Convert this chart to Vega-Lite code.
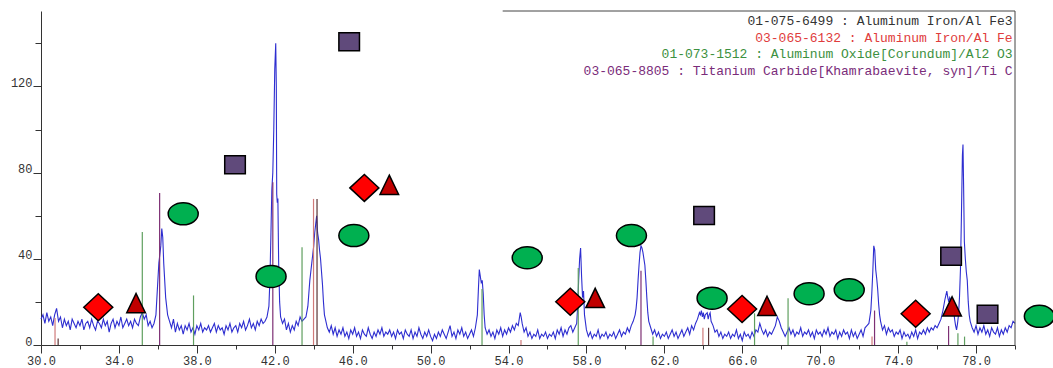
{
  "$schema": "https://vega.github.io/schema/vega-lite/v6.json",
  "width": 974,
  "height": 334,
  "autosize": {"type": "none"},
  "padding": {"left": 41, "top": 11, "right": 38, "bottom": 23},
  "background": "white",
  "config": {
    "view": {"stroke": null},
    "font": "Liberation Mono",
    "axis": {"grid": false, "title": null, "domainColor": "#333333", "tickColor": "#333333", "labelColor": "#333333", "labelFont": "Liberation Mono", "labelFontSize": 12, "labelFontWeight": "normal"}
  },
  "resolve": {"axis": {"x": "independent", "y": "independent"}, "scale": {"fill": "independent"}},
  "datasets": {
    "scan": [
      {"x":30.0,"y":12},{"x":30.1,"y":14},{"x":30.2,"y":10},{"x":30.3,"y":15},{"x":30.4,"y":11},{"x":30.5,"y":13},{"x":30.6,"y":9},{"x":30.7,"y":14},{"x":30.8,"y":17},{"x":30.9,"y":11},
      {"x":31.0,"y":13},{"x":31.1,"y":8},{"x":31.2,"y":12},{"x":31.3,"y":9},{"x":31.4,"y":11},{"x":31.5,"y":7},{"x":31.6,"y":12},{"x":31.7,"y":10},{"x":31.8,"y":8},{"x":31.9,"y":11},
      {"x":32.0,"y":9},{"x":32.1,"y":12},{"x":32.2,"y":7},{"x":32.3,"y":10},{"x":32.4,"y":11},{"x":32.5,"y":8},{"x":32.6,"y":12},{"x":32.7,"y":9},{"x":32.8,"y":7},{"x":32.9,"y":11},
      {"x":33.0,"y":10},{"x":33.1,"y":8},{"x":33.2,"y":12},{"x":33.3,"y":9},{"x":33.4,"y":11},{"x":33.5,"y":6},{"x":33.6,"y":10},{"x":33.7,"y":12},{"x":33.8,"y":8},{"x":33.9,"y":11},
      {"x":34.0,"y":9},{"x":34.1,"y":13},{"x":34.2,"y":8},{"x":34.3,"y":10},{"x":34.4,"y":12},{"x":34.5,"y":9},{"x":34.6,"y":11},{"x":34.7,"y":8},{"x":34.8,"y":12},{"x":34.9,"y":10},
      {"x":35.0,"y":9},{"x":35.1,"y":13},{"x":35.2,"y":15},{"x":35.3,"y":12},{"x":35.4,"y":14},{"x":35.5,"y":9},{"x":35.6,"y":11},{"x":35.7,"y":8},{"x":35.8,"y":10},{"x":35.9,"y":14},
      {"x":36.0,"y":30},{"x":36.05,"y":38},{"x":36.1,"y":42},{"x":36.15,"y":46},{"x":36.2,"y":54},{"x":36.25,"y":50},{"x":36.3,"y":38},{"x":36.4,"y":22},{"x":36.5,"y":14},{"x":36.6,"y":11},
      {"x":36.7,"y":8},{"x":36.8,"y":12},{"x":36.9,"y":6},{"x":37.0,"y":10},{"x":37.1,"y":7},{"x":37.2,"y":9},{"x":37.3,"y":5},{"x":37.4,"y":9},{"x":37.5,"y":7},{"x":37.6,"y":10},
      {"x":37.7,"y":6},{"x":37.8,"y":8},{"x":37.9,"y":5},{"x":38.0,"y":9},{"x":38.1,"y":7},{"x":38.2,"y":10},{"x":38.3,"y":6},{"x":38.4,"y":8},{"x":38.5,"y":7},{"x":38.6,"y":9},
      {"x":38.7,"y":6},{"x":38.8,"y":8},{"x":38.9,"y":10},{"x":39.0,"y":6},{"x":39.1,"y":9},{"x":39.2,"y":7},{"x":39.3,"y":8},{"x":39.4,"y":5},{"x":39.5,"y":9},{"x":39.6,"y":7},
      {"x":39.7,"y":10},{"x":39.8,"y":6},{"x":39.9,"y":8},{"x":40.0,"y":9},{"x":40.1,"y":6},{"x":40.2,"y":10},{"x":40.3,"y":8},{"x":40.4,"y":11},{"x":40.5,"y":7},{"x":40.6,"y":9},
      {"x":40.7,"y":12},{"x":40.8,"y":8},{"x":40.9,"y":10},{"x":41.0,"y":7},{"x":41.1,"y":11},{"x":41.2,"y":9},{"x":41.3,"y":12},{"x":41.4,"y":10},{"x":41.5,"y":11},{"x":41.6,"y":13},
      {"x":41.7,"y":18},{"x":41.75,"y":30},{"x":41.8,"y":50},{"x":41.85,"y":72},{"x":41.9,"y":80},{"x":41.95,"y":100},{"x":42.0,"y":128},{"x":42.05,"y":140},{"x":42.08,"y":120},{"x":42.1,"y":70},
      {"x":42.13,"y":66},{"x":42.16,"y":68},{"x":42.2,"y":38},{"x":42.25,"y":20},{"x":42.3,"y":13},{"x":42.4,"y":10},{"x":42.5,"y":12},{"x":42.6,"y":7},{"x":42.7,"y":10},{"x":42.8,"y":6},
      {"x":42.9,"y":9},{"x":43.0,"y":7},{"x":43.1,"y":11},{"x":43.2,"y":9},{"x":43.3,"y":13},{"x":43.4,"y":11},{"x":43.5,"y":12},{"x":43.6,"y":13},{"x":43.7,"y":18},{"x":43.75,"y":24},
      {"x":43.8,"y":30},{"x":43.85,"y":34},{"x":43.9,"y":38},{"x":43.95,"y":42},{"x":44.0,"y":46},{"x":44.05,"y":52},{"x":44.1,"y":56},{"x":44.15,"y":60},{"x":44.2,"y":52},{"x":44.25,"y":49},
      {"x":44.3,"y":44},{"x":44.35,"y":40},{"x":44.4,"y":34},{"x":44.45,"y":28},{"x":44.5,"y":20},{"x":44.55,"y":14},{"x":44.6,"y":12},{"x":44.7,"y":8},{"x":44.8,"y":6},{"x":44.9,"y":9},
      {"x":45.0,"y":5},{"x":45.1,"y":8},{"x":45.2,"y":4},{"x":45.3,"y":7},{"x":45.4,"y":5},{"x":45.5,"y":8},{"x":45.6,"y":4},{"x":45.7,"y":6},{"x":45.8,"y":3},{"x":45.9,"y":7},
      {"x":46.0,"y":5},{"x":46.1,"y":8},{"x":46.2,"y":4},{"x":46.3,"y":6},{"x":46.4,"y":3},{"x":46.5,"y":7},{"x":46.6,"y":5},{"x":46.7,"y":4},{"x":46.8,"y":8},{"x":46.9,"y":5},
      {"x":47.0,"y":3},{"x":47.1,"y":6},{"x":47.2,"y":4},{"x":47.3,"y":7},{"x":47.4,"y":5},{"x":47.5,"y":8},{"x":47.6,"y":4},{"x":47.7,"y":6},{"x":47.8,"y":5},{"x":47.9,"y":7},
      {"x":48.0,"y":4},{"x":48.1,"y":6},{"x":48.2,"y":3},{"x":48.3,"y":7},{"x":48.4,"y":5},{"x":48.5,"y":6},{"x":48.6,"y":3},{"x":48.7,"y":7},{"x":48.8,"y":5},{"x":48.9,"y":4},
      {"x":49.0,"y":7},{"x":49.1,"y":3},{"x":49.2,"y":6},{"x":49.3,"y":4},{"x":49.4,"y":8},{"x":49.5,"y":5},{"x":49.6,"y":3},{"x":49.7,"y":6},{"x":49.8,"y":4},{"x":49.9,"y":7},
      {"x":50.0,"y":4},{"x":50.1,"y":2},{"x":50.2,"y":5},{"x":50.3,"y":3},{"x":50.4,"y":6},{"x":50.5,"y":4},{"x":50.6,"y":7},{"x":50.7,"y":5},{"x":50.8,"y":3},{"x":50.9,"y":6},
      {"x":51.0,"y":9},{"x":51.1,"y":4},{"x":51.2,"y":6},{"x":51.3,"y":3},{"x":51.4,"y":7},{"x":51.5,"y":5},{"x":51.6,"y":8},{"x":51.7,"y":4},{"x":51.8,"y":6},{"x":51.9,"y":3},
      {"x":52.0,"y":5},{"x":52.1,"y":7},{"x":52.2,"y":4},{"x":52.3,"y":8},{"x":52.4,"y":14},{"x":52.45,"y":25},{"x":52.5,"y":35},{"x":52.55,"y":32},{"x":52.6,"y":29},{"x":52.65,"y":30},
      {"x":52.7,"y":24},{"x":52.75,"y":14},{"x":52.8,"y":8},{"x":52.9,"y":5},{"x":53.0,"y":7},{"x":53.1,"y":4},{"x":53.2,"y":6},{"x":53.3,"y":3},{"x":53.4,"y":7},{"x":53.5,"y":5},
      {"x":53.6,"y":8},{"x":53.7,"y":4},{"x":53.8,"y":7},{"x":53.9,"y":5},{"x":54.0,"y":8},{"x":54.1,"y":6},{"x":54.2,"y":9},{"x":54.3,"y":7},{"x":54.4,"y":10},{"x":54.5,"y":9},
      {"x":54.6,"y":15},{"x":54.65,"y":13},{"x":54.7,"y":10},{"x":54.8,"y":6},{"x":54.9,"y":8},{"x":55.0,"y":4},{"x":55.1,"y":6},{"x":55.2,"y":3},{"x":55.3,"y":5},{"x":55.4,"y":4},
      {"x":55.5,"y":7},{"x":55.6,"y":3},{"x":55.7,"y":5},{"x":55.8,"y":4},{"x":55.9,"y":6},{"x":56.0,"y":3},{"x":56.1,"y":5},{"x":56.2,"y":4},{"x":56.3,"y":6},{"x":56.4,"y":3},
      {"x":56.5,"y":7},{"x":56.6,"y":5},{"x":56.7,"y":8},{"x":56.8,"y":4},{"x":56.9,"y":7},{"x":57.0,"y":5},{"x":57.1,"y":8},{"x":57.2,"y":9},{"x":57.3,"y":6},{"x":57.4,"y":8},
      {"x":57.5,"y":10},{"x":57.55,"y":18},{"x":57.6,"y":30},{"x":57.65,"y":40},{"x":57.7,"y":45},{"x":57.75,"y":32},{"x":57.8,"y":22},{"x":57.85,"y":25},{"x":57.9,"y":14},{"x":58.0,"y":7},
      {"x":58.1,"y":4},{"x":58.2,"y":6},{"x":58.3,"y":3},{"x":58.4,"y":5},{"x":58.5,"y":4},{"x":58.6,"y":7},{"x":58.7,"y":3},{"x":58.8,"y":5},{"x":58.9,"y":4},{"x":59.0,"y":6},
      {"x":59.1,"y":3},{"x":59.2,"y":5},{"x":59.3,"y":4},{"x":59.4,"y":6},{"x":59.5,"y":3},{"x":59.6,"y":5},{"x":59.7,"y":7},{"x":59.8,"y":4},{"x":59.9,"y":6},{"x":60.0,"y":5},
      {"x":60.1,"y":8},{"x":60.2,"y":6},{"x":60.3,"y":9},{"x":60.4,"y":11},{"x":60.5,"y":14},{"x":60.55,"y":17},{"x":60.6,"y":22},{"x":60.65,"y":30},{"x":60.7,"y":37},{"x":60.75,"y":43},
      {"x":60.8,"y":46},{"x":60.85,"y":45},{"x":60.9,"y":43},{"x":60.95,"y":40},{"x":61.0,"y":37},{"x":61.05,"y":30},{"x":61.1,"y":22},{"x":61.15,"y":15},{"x":61.2,"y":11},{"x":61.3,"y":8},
      {"x":61.4,"y":5},{"x":61.5,"y":7},{"x":61.6,"y":4},{"x":61.7,"y":6},{"x":61.8,"y":3},{"x":61.9,"y":5},{"x":62.0,"y":4},{"x":62.1,"y":6},{"x":62.2,"y":3},{"x":62.3,"y":5},
      {"x":62.4,"y":7},{"x":62.5,"y":4},{"x":62.6,"y":6},{"x":62.7,"y":3},{"x":62.8,"y":5},{"x":62.9,"y":7},{"x":63.0,"y":4},{"x":63.1,"y":6},{"x":63.2,"y":8},{"x":63.3,"y":5},
      {"x":63.4,"y":9},{"x":63.5,"y":7},{"x":63.6,"y":10},{"x":63.7,"y":12},{"x":63.8,"y":15},{"x":63.85,"y":14},{"x":63.9,"y":16},{"x":63.95,"y":13},{"x":64.0,"y":15},{"x":64.05,"y":12},
      {"x":64.1,"y":14},{"x":64.2,"y":15},{"x":64.25,"y":12},{"x":64.3,"y":14},{"x":64.35,"y":15},{"x":64.4,"y":11},{"x":64.5,"y":9},{"x":64.6,"y":6},{"x":64.7,"y":7},{"x":64.8,"y":4},
      {"x":64.9,"y":6},{"x":65.0,"y":3},{"x":65.1,"y":5},{"x":65.2,"y":4},{"x":65.3,"y":6},{"x":65.4,"y":3},{"x":65.5,"y":5},{"x":65.6,"y":4},{"x":65.7,"y":7},{"x":65.8,"y":3},
      {"x":65.9,"y":5},{"x":66.0,"y":2},{"x":66.1,"y":6},{"x":66.2,"y":4},{"x":66.3,"y":5},{"x":66.4,"y":3},{"x":66.5,"y":6},{"x":66.6,"y":4},{"x":66.7,"y":7},{"x":66.8,"y":6},
      {"x":66.9,"y":10},{"x":67.0,"y":7},{"x":67.1,"y":5},{"x":67.2,"y":7},{"x":67.3,"y":4},{"x":67.4,"y":6},{"x":67.5,"y":5},{"x":67.6,"y":7},{"x":67.7,"y":9},{"x":67.8,"y":13},
      {"x":67.85,"y":12},{"x":67.9,"y":11},{"x":68.0,"y":8},{"x":68.1,"y":6},{"x":68.2,"y":4},{"x":68.3,"y":6},{"x":68.4,"y":8},{"x":68.5,"y":5},{"x":68.6,"y":7},{"x":68.7,"y":4},
      {"x":68.8,"y":6},{"x":68.9,"y":5},{"x":69.0,"y":8},{"x":69.1,"y":4},{"x":69.2,"y":6},{"x":69.3,"y":5},{"x":69.4,"y":7},{"x":69.5,"y":4},{"x":69.6,"y":6},{"x":69.7,"y":3},
      {"x":69.8,"y":7},{"x":69.9,"y":5},{"x":70.0,"y":6},{"x":70.1,"y":4},{"x":70.2,"y":7},{"x":70.3,"y":5},{"x":70.4,"y":8},{"x":70.5,"y":4},{"x":70.6,"y":6},{"x":70.7,"y":5},
      {"x":70.8,"y":7},{"x":70.9,"y":3},{"x":71.0,"y":6},{"x":71.1,"y":4},{"x":71.2,"y":7},{"x":71.3,"y":5},{"x":71.4,"y":6},{"x":71.5,"y":3},{"x":71.6,"y":7},{"x":71.7,"y":4},
      {"x":71.8,"y":6},{"x":71.9,"y":3},{"x":72.0,"y":5},{"x":72.1,"y":7},{"x":72.2,"y":4},{"x":72.3,"y":8},{"x":72.4,"y":9},{"x":72.5,"y":10},{"x":72.55,"y":13},{"x":72.6,"y":16},
      {"x":72.65,"y":24},{"x":72.7,"y":34},{"x":72.75,"y":46},{"x":72.8,"y":44},{"x":72.85,"y":35},{"x":72.9,"y":31},{"x":72.95,"y":26},{"x":73.0,"y":19},{"x":73.05,"y":14},{"x":73.1,"y":11},
      {"x":73.2,"y":7},{"x":73.3,"y":9},{"x":73.4,"y":5},{"x":73.5,"y":8},{"x":73.6,"y":6},{"x":73.7,"y":7},{"x":73.8,"y":4},{"x":73.9,"y":6},{"x":74.0,"y":5},{"x":74.1,"y":7},
      {"x":74.2,"y":3},{"x":74.3,"y":6},{"x":74.4,"y":4},{"x":74.5,"y":5},{"x":74.6,"y":3},{"x":74.7,"y":6},{"x":74.8,"y":4},{"x":74.9,"y":7},{"x":75.0,"y":3},{"x":75.1,"y":6},
      {"x":75.2,"y":5},{"x":75.3,"y":7},{"x":75.4,"y":5},{"x":75.5,"y":8},{"x":75.6,"y":6},{"x":75.7,"y":8},{"x":75.8,"y":7},{"x":75.9,"y":9},{"x":76.0,"y":8},{"x":76.1,"y":10},
      {"x":76.2,"y":12},{"x":76.3,"y":16},{"x":76.4,"y":21},{"x":76.45,"y":23},{"x":76.5,"y":25},{"x":76.55,"y":22},{"x":76.6,"y":20},{"x":76.65,"y":22},{"x":76.7,"y":21},{"x":76.8,"y":19},
      {"x":76.85,"y":16},{"x":76.9,"y":12},{"x":76.95,"y":9},{"x":77.0,"y":7},{"x":77.05,"y":10},{"x":77.1,"y":14},{"x":77.15,"y":22},{"x":77.2,"y":35},{"x":77.25,"y":60},{"x":77.3,"y":88},
      {"x":77.33,"y":93},{"x":77.36,"y":75},{"x":77.4,"y":48},{"x":77.45,"y":40},{"x":77.5,"y":34},{"x":77.55,"y":30},{"x":77.6,"y":20},{"x":77.65,"y":14},{"x":77.7,"y":11},{"x":77.8,"y":8},
      {"x":77.9,"y":6},{"x":78.0,"y":9},{"x":78.1,"y":5},{"x":78.2,"y":8},{"x":78.3,"y":6},{"x":78.4,"y":9},{"x":78.5,"y":5},{"x":78.6,"y":7},{"x":78.7,"y":4},{"x":78.8,"y":8},
      {"x":78.9,"y":6},{"x":79.0,"y":5},{"x":79.1,"y":8},{"x":79.2,"y":4},{"x":79.3,"y":7},{"x":79.4,"y":5},{"x":79.5,"y":8},{"x":79.6,"y":6},{"x":79.7,"y":9},{"x":79.8,"y":8},
      {"x":79.9,"y":11},{"x":80.0,"y":10}
    ],
    "sticks": [
      {"card":"03-065-6132","x":30.72,"h":12.5},
      {"card":"01-075-6499","x":30.88,"h":3},
      {"card":"01-073-1512","x":35.2,"h":52.4},
      {"card":"03-065-8805","x":36.09,"h":70.5},
      {"card":"01-073-1512","x":37.83,"h":23},
      {"card":"03-065-8805","x":41.9,"h":75.5},
      {"card":"01-073-1512","x":43.4,"h":45.4},
      {"card":"03-065-6132","x":43.99,"h":67.8},
      {"card":"01-075-6499","x":44.17,"h":67.8},
      {"card":"01-073-1512","x":52.64,"h":26},
      {"card":"03-065-6132","x":54.64,"h":2.3},
      {"card":"01-073-1512","x":57.58,"h":35.7},
      {"card":"03-065-8805","x":60.8,"h":34.5},
      {"card":"01-073-1512","x":61.42,"h":3.9},
      {"card":"03-065-6132","x":63.98,"h":8},
      {"card":"01-075-6499","x":64.27,"h":8},
      {"card":"01-073-1512","x":66.63,"h":14.7},
      {"card":"01-073-1512","x":68.35,"h":21.7},
      {"card":"03-065-6132","x":72.66,"h":3.9},
      {"card":"03-065-8805","x":72.79,"h":16},
      {"card":"01-073-1512","x":74.45,"h":1.5},
      {"card":"03-065-8805","x":76.59,"h":8.8},
      {"card":"01-073-1512","x":77.07,"h":5.4},
      {"card":"01-073-1512","x":77.41,"h":3.9}
    ],
    "markers": [
      {"kind":"diamond","x":32.94,"y":17.5},
      {"kind":"diamond","x":46.6,"y":72.9},
      {"kind":"diamond","x":57.17,"y":20.1},
      {"kind":"diamond","x":65.99,"y":16.7},
      {"kind":"diamond","x":74.9,"y":14.5},
      {"kind":"triangle","x":34.88,"y":19.5},
      {"kind":"triangle","x":47.88,"y":74.4},
      {"kind":"triangle","x":58.45,"y":21.9},
      {"kind":"triangle","x":67.27,"y":18.2},
      {"kind":"triangle","x":76.77,"y":18},
      {"kind":"ellipse","x":37.3,"y":60.9},
      {"kind":"ellipse","x":41.81,"y":31.8},
      {"kind":"ellipse","x":46.06,"y":50.8},
      {"kind":"ellipse","x":54.96,"y":40.5},
      {"kind":"ellipse","x":60.31,"y":50.8},
      {"kind":"ellipse","x":64.45,"y":21.7},
      {"kind":"ellipse","x":69.43,"y":23.8},
      {"kind":"ellipse","x":71.49,"y":25.6},
      {"kind":"ellipse","x":81.25,"y":13.3},
      {"kind":"square","x":39.96,"y":83.6},
      {"kind":"square","x":45.82,"y":140.7},
      {"kind":"square","x":64.04,"y":60.1},
      {"kind":"square","x":76.72,"y":41.2},
      {"kind":"square","x":78.59,"y":14.3}
    ],
    "cards": [
      {"card":"01-075-6499","label":"01-075-6499 : Aluminum Iron/Al Fe3","x":79.88,"y":150.4},
      {"card":"03-065-6132","label":"03-065-6132 : Aluminum Iron/Al Fe","x":79.88,"y":142.6},
      {"card":"01-073-1512","label":"01-073-1512 : Aluminum Oxide[Corundum]/Al2 O3","x":79.88,"y":134.9},
      {"card":"03-065-8805","label":"03-065-8805 : Titanium Carbide[Khamrabaevite, syn]/Ti C","x":79.88,"y":127.1}
    ],
    "frame": [
      {"x0":53.7,"x1":80,"y0":0,"y1":155}
    ]
  },
  "layer": [
    {
      "data": {"name": "scan"},
      "mark": {"type": "line", "color": "#2e2ed0", "strokeWidth": 1.1},
      "encoding": {
        "x": {"field": "x", "type": "quantitative", "scale": {"domain": [30, 80], "nice": false, "zero": false, "padding": 0},
          "axis": {"values": [30,34,38,42,46,50,54,58,62,66,70,74,78],
                   "format": ".1f", "orient": "bottom",
                   "tickSize": 8, "labelPadding": 2, "labelFlush": false, "labelOverlap": false}},
        "y": {"field": "y", "type": "quantitative", "scale": {"domain": [0, 155], "nice": false, "padding": 0},
          "axis": {"values": [0,40,80,120], "format": "d", "orient": "left",
                   "tickSize": 8, "labelBaseline": "alphabetic", "labelPadding": 1, "labelOverlap": false}}
      }
    },
    {
      "data": {"name": "sticks"},
      "mark": {"type": "bar", "width": 1.2},
      "encoding": {
        "x": {"field": "x", "type": "quantitative",
          "axis": {"values": [32,36,40,44,48,52,56,60,64,68,72,76,80], "orient": "bottom", "labels": false, "domain": false, "tickSize": 4}},
        "y": {"field": "h", "type": "quantitative", "stack": null,
          "axis": {"values": [20,60,100,140], "orient": "left", "labels": false, "domain": false, "tickSize": 6}},
        "color": {"field": "card", "type": "nominal", "legend": null,
          "scale": {"domain": ["01-075-6499","03-065-6132","01-073-1512","03-065-8805"], "range": ["#5a3434","#d07a7a","#5f9f5f","#7d2f74"]}}
      }
    },
    {
      "data": {"name": "markers"},
      "mark": {"type": "point", "filled": true, "stroke": "black", "strokeWidth": 1.5, "size": 4, "opacity": 1},
      "encoding": {
        "x": {"field": "x", "type": "quantitative", "axis": null},
        "y": {"field": "y", "type": "quantitative", "axis": null},
        "fill": {"field": "kind", "type": "nominal", "legend": null,
          "scale": {"domain": ["diamond","triangle","ellipse","square"], "range": ["#ff0000","#c00000","#00b050","#604a7b"]}},
        "shape": {"field": "kind", "type": "nominal", "legend": null,
          "scale": {"domain": ["diamond","triangle","ellipse","square"],
                    "range": ["M -14.5 0 L 0 -13.5 L 14.5 0 L 0 13.5 Z",
                              "M 0 -9.5 L 9.3 9.8 L -9.3 9.8 Z",
                              "M -15 0 A 15 11 0 1 0 15 0 A 15 11 0 1 0 -15 0 Z",
                              "M -10.3 -9 L 10.3 -9 L 10.3 9 L -10.3 9 Z"]}}
      }
    },
    {
      "data": {"name": "frame"},
      "mark": {"type": "rule", "color": "#444444", "strokeWidth": 1},
      "encoding": {"x": {"field": "x0", "type": "quantitative", "axis": null}, "x2": {"field": "x1"}, "y": {"field": "y1", "type": "quantitative", "axis": null}}
    },
    {
      "data": {"name": "frame"},
      "mark": {"type": "rule", "color": "#444444", "strokeWidth": 1},
      "encoding": {"x": {"field": "x1", "type": "quantitative", "axis": null}, "y": {"field": "y0", "type": "quantitative", "axis": null}, "y2": {"field": "y1"}}
    },
    {
      "data": {"name": "cards"},
      "mark": {"type": "text", "align": "right", "baseline": "middle", "font": "Liberation Mono", "fontSize": 13},
      "encoding": {
        "x": {"field": "x", "type": "quantitative", "axis": null},
        "y": {"field": "y", "type": "quantitative", "axis": null},
        "text": {"field": "label", "type": "nominal"},
        "fill": {"field": "card", "type": "nominal", "legend": null,
          "scale": {"domain": ["01-075-6499","03-065-6132","01-073-1512","03-065-8805"], "range": ["#333333","#e03c3c","#3c9040","#7a2c7a"]}}
      }
    }
  ]
}
